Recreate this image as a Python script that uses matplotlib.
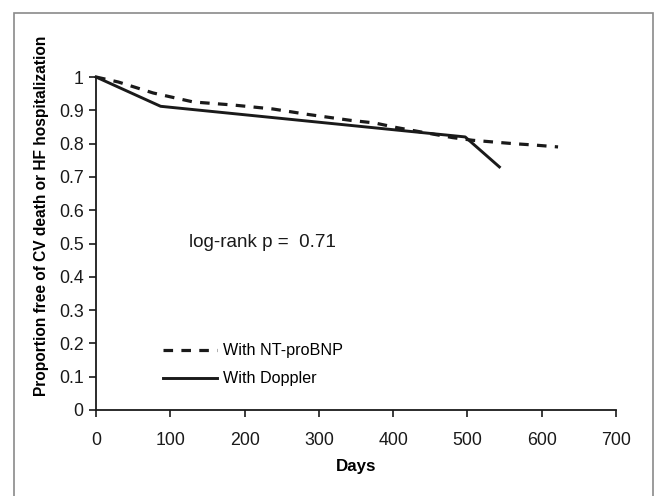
import numpy as np
import matplotlib.pyplot as plt
from matplotlib.patches import Rectangle
from matplotlib.ticker import FuncFormatter

plt.rcParams['font.family'] = ['Liberation Sans', 'DejaVu Sans']

# Kaplan-Meier style curves
days_ntprobnp = [0, 30, 77, 131, 184, 238, 284, 342, 375, 405, 480, 507, 534, 561, 588, 622]
free_ntprobnp = [1.0, 0.985, 0.952, 0.925, 0.916, 0.904, 0.888, 0.87, 0.862, 0.848, 0.818, 0.81, 0.805, 0.80, 0.796, 0.79]

days_doppler = [0, 87, 497, 543]
free_doppler = [1.0, 0.912, 0.82, 0.73]

xticks = [0, 100, 200, 300, 400, 500, 600, 700]
yticks = [0, 0.1, 0.2, 0.3, 0.4, 0.5, 0.6, 0.7, 0.8, 0.9, 1.0]

fig = plt.figure(figsize=(6.59, 4.96), dpi=100)
ax = fig.add_axes([96/659, 1-410/496, (616-96)/659, (410-77)/496])

ax.plot(days_ntprobnp, free_ntprobnp, color='#1a1a1a', lw=2.3, dashes=(3, 2.6),
        label='With NT-proBNP', clip_on=False)
ax.plot(days_doppler, free_doppler, color='#1a1a1a', lw=2.1,
        label='With Doppler', clip_on=False)

ax.set_xlim(0, 700)
ax.set_ylim(0, 1)
ax.set_xticks(xticks)
ax.set_yticks(yticks)
ax.yaxis.set_major_formatter(FuncFormatter(lambda v, p: '%g' % round(v, 1)))
ax.tick_params(direction='out', length=5, width=1.2, labelsize=12.8, colors='#1a1a1a')
ax.tick_params(axis='x', pad=11)
ax.tick_params(axis='y', pad=4)
for s in ['top', 'right']:
    ax.spines[s].set_visible(False)
for s in ['left', 'bottom']:
    ax.spines[s].set_linewidth(1.3)
    ax.spines[s].set_color('#1a1a1a')

ax.set_xlabel('Days', fontsize=12.2, fontweight='bold')
ax.xaxis.set_label_coords(0.5, (410 - 466) / 333, transform=ax.transAxes)
ax.xaxis.label.set_va('center')
ax.set_ylabel('Proportion free of CV death or HF hospitalization', fontsize=11.2,
              fontweight='bold')
ax.yaxis.set_label_coords((42 - 96) / 520, (410 - 216) / 333)
ax.yaxis.label.set_va('center')

ax.text(125, 0.503, 'log-rank p =  0.71', fontsize=13.6, va='center', ha='left', color='#1a1a1a')

ax.legend(loc='lower left', bbox_to_anchor=(0.1, 0.028), frameon=False, fontsize=11.6,
          handlelength=3.4, handletextpad=0.35, labelspacing=0.8)

fig.patches.append(Rectangle((14/659, -0.05), (653-14)/659, 1.05 - 13/496,
                             transform=fig.transFigure, fill=False,
                             edgecolor='#8a8a8a', lw=1.2))

fig.savefig('out.png', dpi=100)
